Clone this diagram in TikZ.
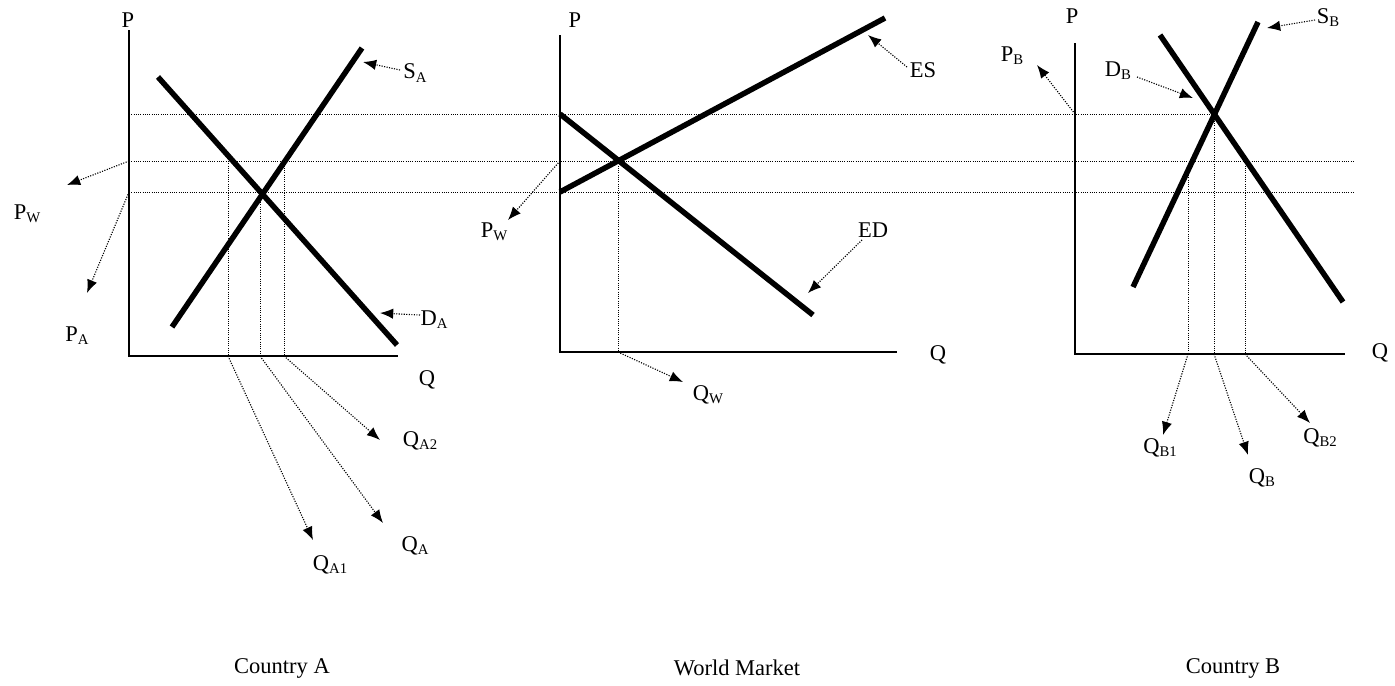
\documentclass[tikz,border=0pt]{standalone}
\usepackage{fontspec}
\setmainfont{Liberation Serif}
\usetikzlibrary{arrows.meta}
\newcommand{\sbs}[1]{\raisebox{-0.3ex}{\fontsize{10.5}{12}\selectfont #1}}

\begin{document}
\begin{tikzpicture}[
    x=0.025cm, y=-0.025cm,
    every node/.style={font=\fontsize{16}{19}\selectfont, inner sep=0pt},
    axis/.style={line width=1.4pt},
    curve/.style={line width=3.9pt},
    guide/.style={densely dotted, line width=0.6pt},
    pointer/.style={densely dotted, line width=0.8pt, -{Latex[length=3.3mm, width=2.6mm]}}
]
\useasboundingbox (0,0) rectangle (1395,685);

% price levels running through all three markets
\coordinate (pb-a) at (129,114); \coordinate (pb-b) at (1214,114);
\coordinate (pw-a) at (129,161); \coordinate (pw-b) at (1355,161);
\coordinate (pa-a) at (129,192); \coordinate (pa-b) at (1355,192);
\draw[guide] (pb-a) -- (pb-b);
\draw[guide] (pw-a) -- (pw-b);
\draw[guide] (pa-a) -- (pa-b);

% Country A
\coordinate (a-top) at (129,30); \coordinate (a-o) at (129,356); \coordinate (a-end) at (398,356);
\coordinate (qa1-top) at (228,161); \coordinate (qa1) at (228,356);
\coordinate (qa-top) at (260,193); \coordinate (qa) at (260,356);
\coordinate (qa2-top) at (284,161); \coordinate (qa2) at (284,356);
\draw[guide] (qa1-top) -- (qa1);
\draw[guide] (qa-top) -- (qa);
\draw[guide] (qa2-top) -- (qa2);
\draw[axis] (a-top) -- (a-o) -- (a-end);
\coordinate (sa-lo) at (172,327); \coordinate (sa-hi) at (362,48);
\coordinate (da-hi) at (158,77); \coordinate (da-lo) at (397,345);
\draw[curve] (sa-lo) -- (sa-hi);
\draw[curve] (da-hi) -- (da-lo);
\node (pa-axis) at (128,20) {P};
\node (qa-axis) at (427,380) {Q};
\node (pw-lbl-a) at (27,214) {P\sbs{W}};
\node (pa-lbl) at (77,336) {P\sbs{A}};
\node (sa-lbl) at (415,73) {S\sbs{A}};
\node (da-lbl) at (434,320) {D\sbs{A}};
\node (qa1-lbl) at (330,565) {Q\sbs{A1}};
\node (qa-lbl) at (415,546) {Q\sbs{A}};
\node (qa2-lbl) at (420,441) {Q\sbs{A2}};
\coordinate (pw-tip-a) at (67,185); \coordinate (pa-tip) at (87,293);
\coordinate (sa-tail) at (400,70); \coordinate (sa-tip) at (363,62);
\coordinate (da-tail) at (420,315); \coordinate (da-tip) at (380,313);
\coordinate (qa1-tip) at (313,540); \coordinate (qa-tip) at (383,523); \coordinate (qa2-tip) at (380,440);
\draw[pointer] (pw-a) -- (pw-tip-a);
\draw[pointer] (pa-a) -- (pa-tip);
\draw[pointer] (sa-tail) -- (sa-tip);
\draw[pointer] (da-tail) -- (da-tip);
\draw[pointer] (qa1) -- (qa1-tip);
\draw[pointer] (qa) -- (qa-tip);
\draw[pointer] (qa2) -- (qa2-tip);

% World Market
\coordinate (w-top) at (560,35); \coordinate (w-o) at (560,352); \coordinate (w-end) at (897,352);
\coordinate (w-pw) at (560,161);
\coordinate (qw-top) at (618,161); \coordinate (qw) at (618,352);
\draw[guide] (qw-top) -- (qw);
\draw[axis] (w-top) -- (w-o) -- (w-end);
\coordinate (es-lo) at (560,192); \coordinate (es-hi) at (885,18);
\coordinate (ed-hi) at (560,114); \coordinate (ed-lo) at (813,315);
\draw[curve] (es-lo) -- (es-hi);
\draw[curve] (ed-hi) -- (ed-lo);
\node (pw-axis) at (575,20) {P};
\node (qw-axis) at (938,355) {Q};
\node (pw-lbl-w) at (494,232) {P\sbs{W}};
\node (es-lbl) at (923,70) {ES};
\node (ed-lbl) at (873,230) {ED};
\node (qw-lbl) at (708,395) {Q\sbs{W}};
\coordinate (pw-tip-w) at (508,220);
\coordinate (es-tail) at (907,67); \coordinate (es-tip) at (868,35);
\coordinate (ed-tail) at (862,240); \coordinate (ed-tip) at (808,293);
\coordinate (qw-tip) at (683,382);
\draw[pointer] (w-pw) -- (pw-tip-w);
\draw[pointer] (es-tail) -- (es-tip);
\draw[pointer] (ed-tail) -- (ed-tip);
\draw[pointer] (qw) -- (qw-tip);

% Country B
\coordinate (b-top) at (1075,43); \coordinate (b-o) at (1075,354); \coordinate (b-end) at (1345,354);
\coordinate (b-pb) at (1075,114);
\coordinate (qb1-top) at (1188,166); \coordinate (qb1) at (1188,354);
\coordinate (qb-top) at (1214,114); \coordinate (qb) at (1214,354);
\coordinate (qb2-top) at (1245,161); \coordinate (qb2) at (1245,354);
\draw[guide] (qb1-top) -- (qb1);
\draw[guide] (qb-top) -- (qb);
\draw[guide] (qb2-top) -- (qb2);
\draw[axis] (b-top) -- (b-o) -- (b-end);
\coordinate (sb-lo) at (1133,287); \coordinate (sb-hi) at (1258,22);
\coordinate (db-hi) at (1160,35); \coordinate (db-lo) at (1343,302);
\draw[curve] (sb-lo) -- (sb-hi);
\draw[curve] (db-hi) -- (db-lo);
\node (pb-axis) at (1072,16) {P};
\node (qb-axis) at (1380,353) {Q};
\node (pb-lbl) at (1012,56) {P\sbs{B}};
\node (db-lbl) at (1118,71) {D\sbs{B}};
\node (sb-lbl) at (1328,18) {S\sbs{B}};
\node (qb1-lbl) at (1160,448) {Q\sbs{B1}};
\node (qb-lbl) at (1262,478) {Q\sbs{B}};
\node (qb2-lbl) at (1320,438) {Q\sbs{B2}};
\coordinate (pb-tip) at (1037,65);
\coordinate (db-tail) at (1137,77); \coordinate (db-tip) at (1193,98);
\coordinate (sb-tail) at (1315,20); \coordinate (sb-tip) at (1267,28);
\coordinate (qb1-tip) at (1163,435); \coordinate (qb-tip) at (1248,455); \coordinate (qb2-tip) at (1310,423);
\draw[pointer] (b-pb) -- (pb-tip);
\draw[pointer] (db-tail) -- (db-tip);
\draw[pointer] (sb-tail) -- (sb-tip);
\draw[pointer] (qb1) -- (qb1-tip);
\draw[pointer] (qb) -- (qb-tip);
\draw[pointer] (qb2) -- (qb2-tip);

\node (country-a) at (282,668) {Country A};
\node (world) at (737,668) {World Market};
\node (country-b) at (1233,668) {Country B};
\end{tikzpicture}
\end{document}
